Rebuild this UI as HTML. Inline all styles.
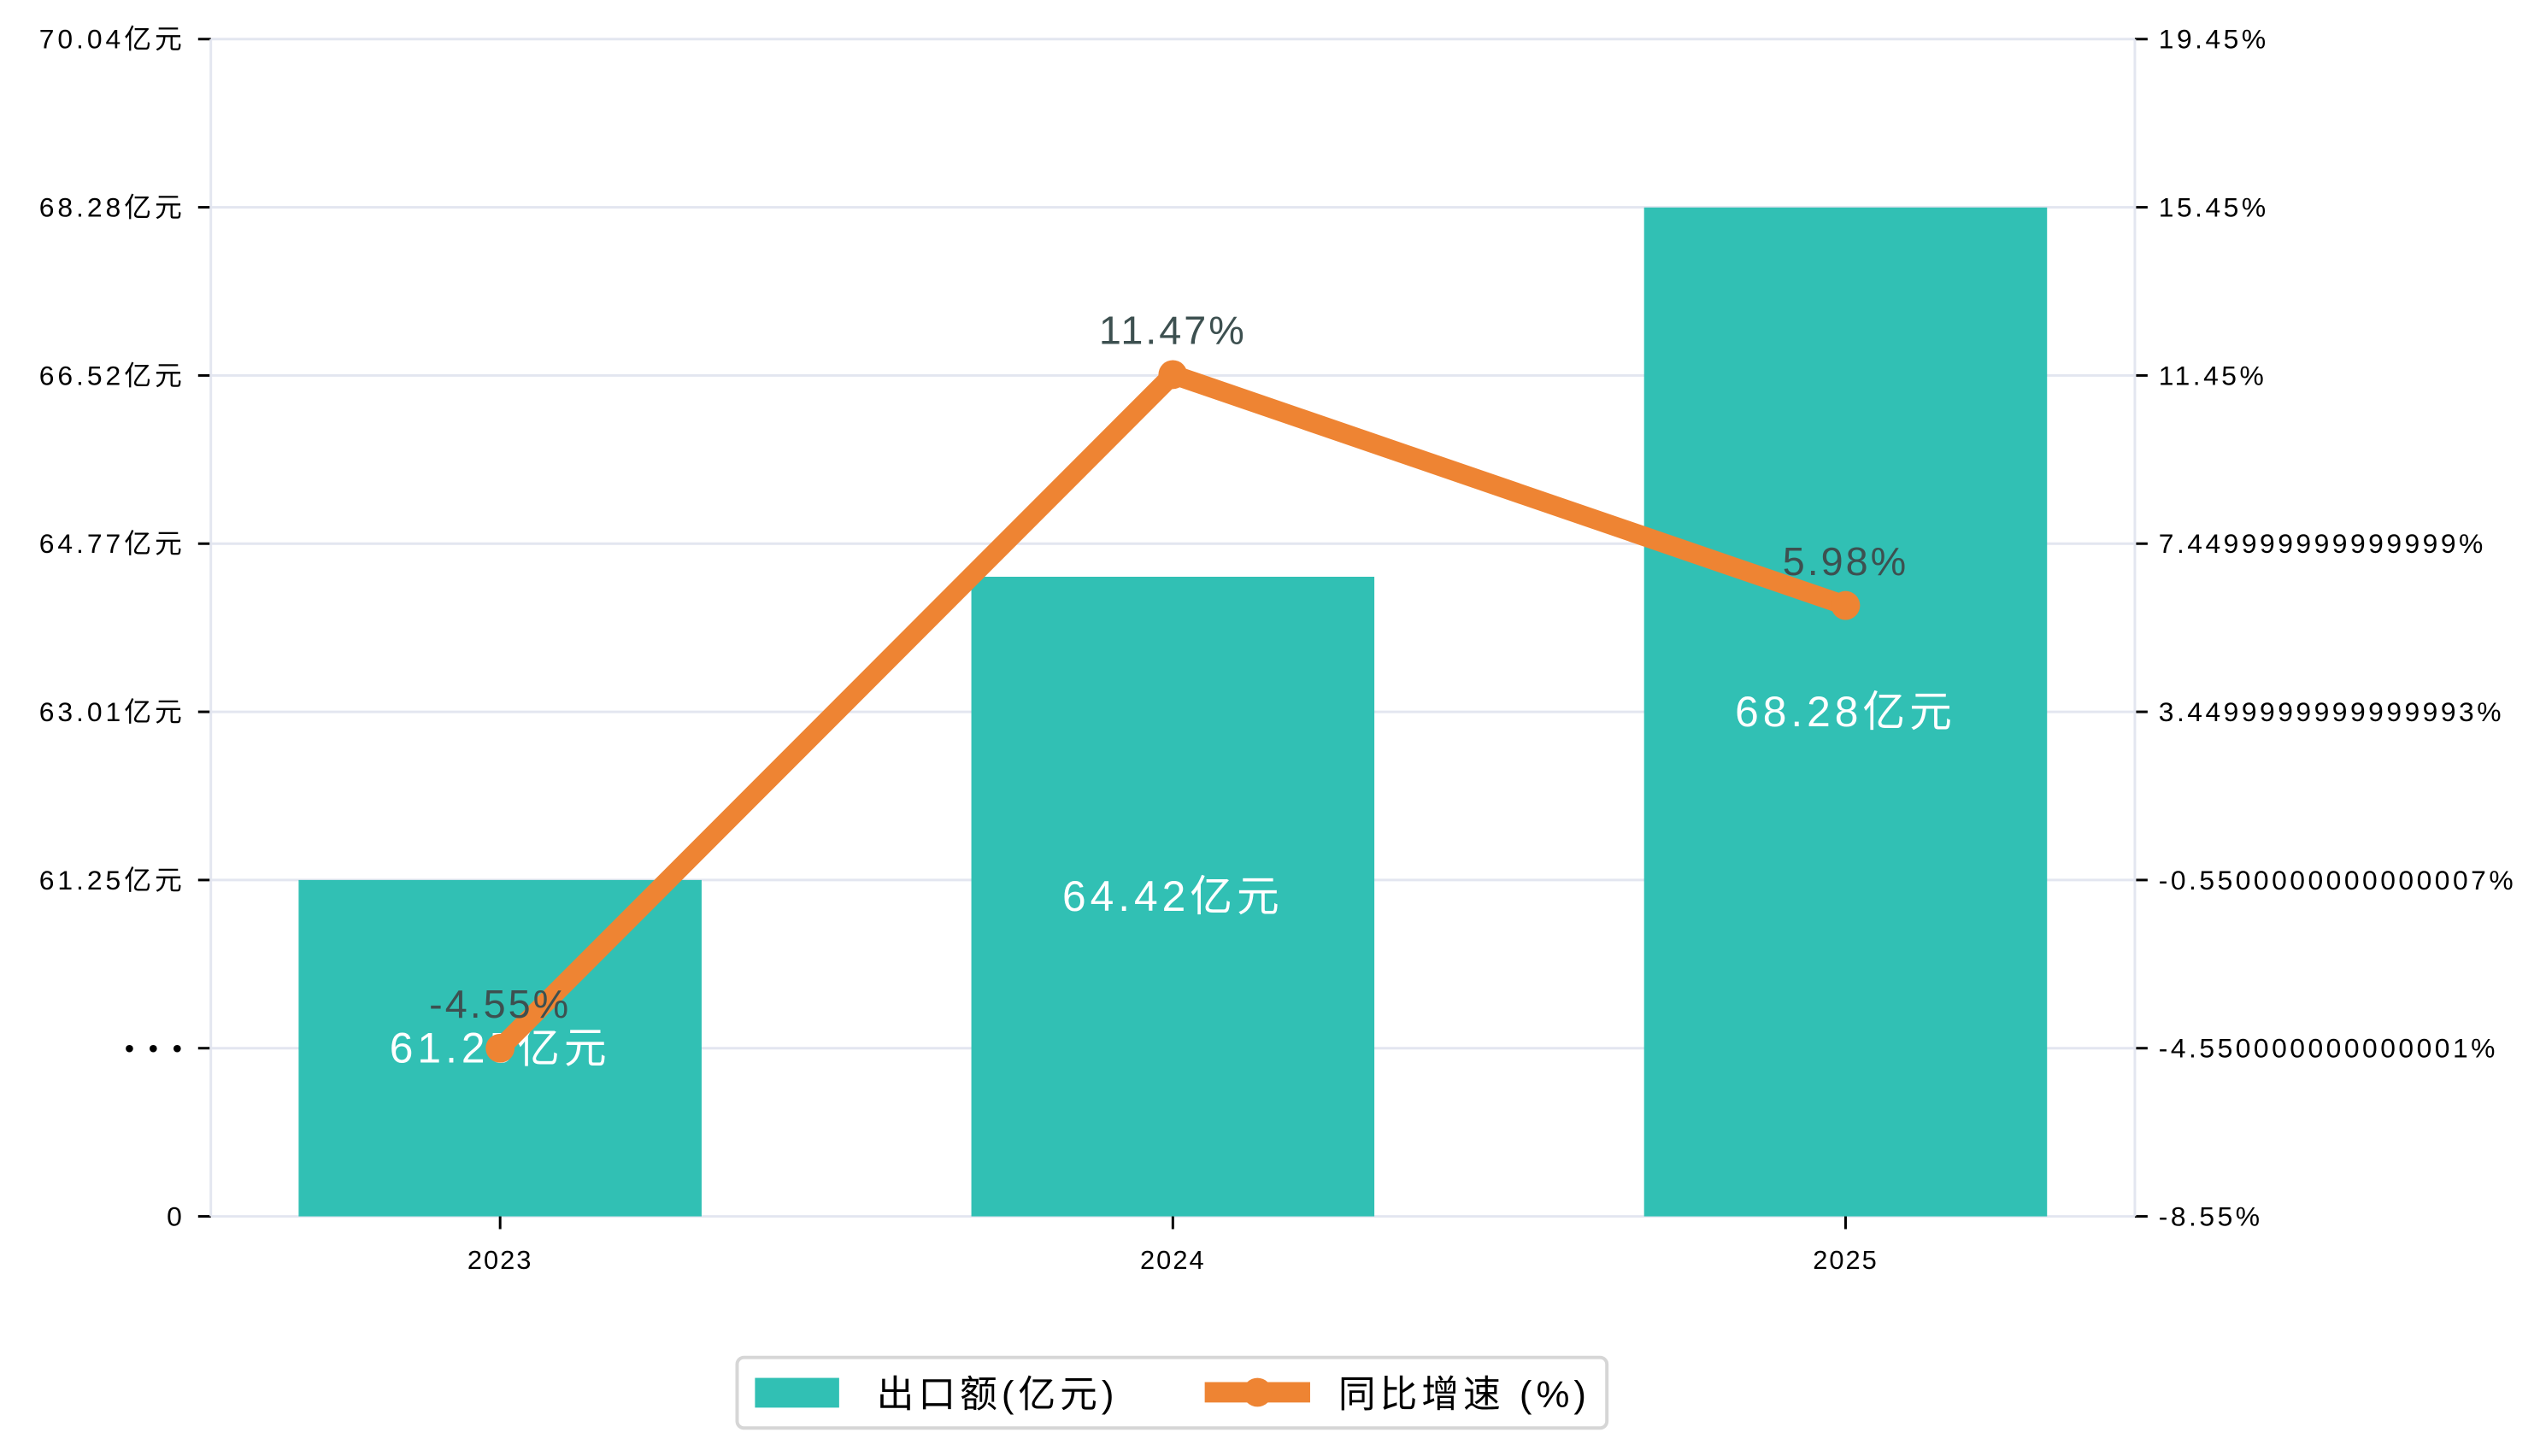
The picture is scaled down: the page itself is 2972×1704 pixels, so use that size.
<!DOCTYPE html>
<html><head><meta charset="utf-8"><style>
html,body{margin:0;padding:0;background:#fff;}
svg{display:block;font-family:"Liberation Sans","Noto Sans CJK SC",sans-serif;}
</style></head><body>
<svg id="chart" width="2972" height="1704" viewBox="0 0 2972 1704" xmlns="http://www.w3.org/2000/svg">
<g transform="scale(0.9948)">
<g id="grid"></g>
<g id="bars"></g>
<g id="barlabels"></g>
<g id="line"></g>
<g id="ann"></g>
<g id="axes"></g>
<g>
  <rect x="867" y="1597" width="1023" height="83" rx="8" fill="#fff" stroke="#d6d6d6" stroke-width="4"/>
  <rect x="888" y="1621" width="99" height="35" fill="#31c0b4"/>
  <text x="1031" y="1655" font-size="44" letter-spacing="5" fill="#000">出口额(亿元)</text>
  <line x1="1417" y1="1638" x2="1541" y2="1638" stroke="#ee8433" stroke-width="24"/>
  <circle cx="1479" cy="1638" r="17" fill="#ee8433"/>
  <text x="1574" y="1655" font-size="44" letter-spacing="5" fill="#000">同比增速 (%)</text>
</g>
</g>
</svg>
<script>
const categories = ["2023","2024","2025"];
const exportValues = [61.25, 64.42, 68.28];
const growthValues = [-4.55, 11.47, 5.98];
const leftTickLabels = ["70.04亿元","68.28亿元","66.52亿元","64.77亿元","63.01亿元","61.25亿元","•  •  •","0"];
const rightTickLabels = ["19.45%","15.45%","11.45%","7.449999999999999%","3.4499999999999993%","-0.5500000000000007%","-4.550000000000001%","-8.55%"];

const NS="http://www.w3.org/2000/svg";
const L=248,R=2511,T=46,B=1431,step=(B-T)/7;
const leftTop=70.04, leftStep=(70.04-61.25)/5;
function yLeft(v){ return T + (leftTop - v)/leftStep*step; }
const rTop=19.45, rBot=-8.55;
function yRight(v){ return T + (rTop - v)/(rTop-rBot)*(B-T); }
const band=(R-L)/ (categories.length-1+0.86);
function xCat(i){ return L + band*0.43 + i*band; }
function mk(tag,attrs,parent,txt){const e=document.createElementNS(NS,tag);for(const k in attrs)e.setAttribute(k,attrs[k]);if(txt!==undefined)e.textContent=txt;parent.appendChild(e);return e;}
const grid=document.getElementById('grid'),axes=document.getElementById('axes');
for(let i=0;i<8;i++){
  const y=T+i*step;
  const g=mk('line',{x1:L,x2:R,y1:y,y2:y,stroke:'#e3e6f0','stroke-width':3},grid);
  
  
  mk('line',{x1:L-15,x2:L,y1:y,y2:y,stroke:'#000','stroke-width':3},axes);
  mk('line',{x1:R,x2:R+15,y1:y,y2:y,stroke:'#000','stroke-width':3},axes);
  const lt=mk('text',{x:L-30,y:y+11,'text-anchor':'end','font-size':32,'letter-spacing':4,fill:'#000'},axes,leftTickLabels[i]);
  
  
  const rt=mk('text',{x:R+28,y:y+11,'font-size':32,'letter-spacing':3.5,fill:'#000'},axes,rightTickLabels[i]);
  
  
}
mk('line',{x1:L,x2:L,y1:T,y2:B,stroke:'#e3e6f0','stroke-width':3},axes);
mk('line',{x1:R,x2:R,y1:T,y2:B,stroke:'#e3e6f0','stroke-width':3},axes);
const bars=document.getElementById('bars'),bl=document.getElementById('barlabels');
const bw=474;
categories.forEach((c,i)=>{
  const x=xCat(i), y=yLeft(exportValues[i]);
  const r=mk('rect',{x:x-bw/2,y:y,width:bw,height:B-y,fill:'#31c0b4'},bars);
  
  
  const t=mk('text',{x:x,y:(y+B)/2+17,'text-anchor':'middle','font-size':50,'letter-spacing':5,fill:'#fff'},bl,exportValues[i].toFixed(2)+'亿元');
  
  
  mk('line',{x1:x,x2:x,y1:B,y2:B+15,stroke:'#000','stroke-width':3},axes);
  const xt=mk('text',{x:x,y:B+62,'text-anchor':'middle','font-size':31,'letter-spacing':2,fill:'#000'},axes,c);
  
  
});
const lg=document.getElementById('line'),ann=document.getElementById('ann');
const pts=growthValues.map((v,i)=>xCat(i)+','+yRight(v)).join(' ');
const pl=mk('polyline',{points:pts,fill:'none',stroke:'#ee8433','stroke-width':23,'stroke-linejoin':'round'},lg);


growthValues.forEach((v,i)=>{
  const x=xCat(i),y=yRight(v);
  const c=mk('circle',{cx:x,cy:y,r:17,fill:'#ee8433'},lg);
  
  
  const t=mk('text',{x:x,y:y-36,'text-anchor':'middle','font-size':47,'letter-spacing':3,fill:'#3d5050'},ann,v.toFixed(2)+'%');
  
  
});
</script>
</body></html>
